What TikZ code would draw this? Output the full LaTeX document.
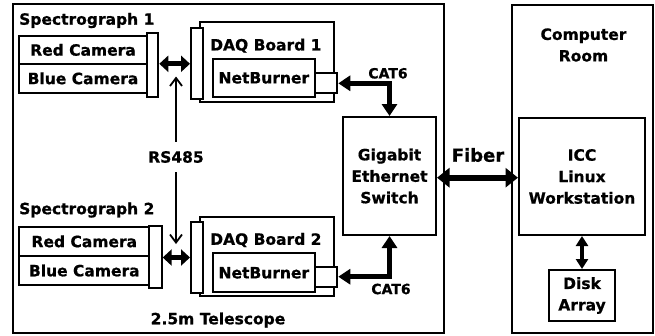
\documentclass[tikz,border=0pt]{standalone}
\usepackage{fontspec}
\setmainfont{DejaVu Sans}[BoldFeatures={FakeBold=0.8}]
\usetikzlibrary{arrows.meta}
\tikzset{
  txt/.style={font=\bfseries\fontsize{15.5}{21.5}\selectfont, inner sep=0pt, align=center},
  box/.style={draw, line width=2pt, fill=white, inner sep=0pt, font=\bfseries\fontsize{15.5}{21.5}\selectfont, align=center},
  bigarrow/.style={line width=5pt, {Triangle[width=16pt,length=9pt]}-{Triangle[width=16pt,length=9pt]}},
  catarrow/.style={line width=4.5pt, {Triangle[width=15pt,length=12pt]}-{Triangle[width=15pt,length=12pt]}},
  fibarrow/.style={line width=6pt, {Triangle[width=19pt,length=12.5pt]}-{Triangle[width=19pt,length=12.5pt]}},
  diskarrow/.style={line width=4pt, {Triangle[width=12pt,length=10pt]}-{Triangle[width=12pt,length=10pt]}},
  rsarrow/.style={line width=1.8pt, -{Straight Barb[length=8pt,width=12pt]}},
}
\begin{document}
\begin{tikzpicture}[x=1pt,y=-1pt]
\useasboundingbox (0,0) rectangle (655,335);
% outer boxes
\node[box, minimum width=430.7pt, minimum height=329.3pt] (tel) at (228.65,168.65) {};
\node[box, minimum width=141.6pt, minimum height=328.6pt] (comp) at (582.5,169) {};
% spectrograph 1
\node[txt, anchor=west] (sp1) at (19,20.5) {Spectrograph 1};
\node[box, minimum width=127.4pt, minimum height=28.3pt] (red1) at (83,49.85) {Red Camera};
\node[box, minimum width=127.4pt, minimum height=28.7pt] (blue1) at (83,78.35) {Blue Camera};
\node[box, minimum width=11.6pt, minimum height=63.4pt] (bar1) at (152.5,65) {};
\node[box, minimum width=134pt, minimum height=80pt] (daq1) at (267,62.3) {};
\node[box, minimum width=11.7pt, minimum height=71pt] (daqbar1) at (196.85,63.8) {};
\node[txt] (daqt1) at (265.85,45.7) {DAQ Board 1};
\node[box, minimum width=102.3pt, minimum height=37.7pt] (nb1) at (263.85,77.85) {NetBurner};
\node[box, minimum width=22.3pt, minimum height=20pt] (port1) at (326.15,83.3) {};
% spectrograph 2
\node[txt, anchor=west] (sp2) at (19,210) {Spectrograph 2};
\node[box, minimum width=130pt, minimum height=29.3pt] (red2) at (84.3,241.35) {Red Camera};
\node[box, minimum width=130pt, minimum height=29pt] (blue2) at (84.3,270.5) {Blue Camera};
\node[box, minimum width=12.4pt, minimum height=62.3pt] (bar2) at (155.5,257.15) {};
\node[box, minimum width=134pt, minimum height=79pt] (daq2) at (267,256.2) {};
\node[box, minimum width=11.7pt, minimum height=71.6pt] (daqbar2) at (196.85,257.5) {};
\node[txt] (daqt2) at (265.85,240) {DAQ Board 2};
\node[box, minimum width=102.3pt, minimum height=39pt] (nb2) at (263.85,272.8) {NetBurner};
\node[box, minimum width=22.3pt, minimum height=20pt] (port2) at (326.15,276.7) {};
% switch and computer room
\node[box, minimum width=93pt, minimum height=118pt] (sw) at (389.5,176) {Gigabit\\Ethernet\\Switch};
\node[box, minimum width=126pt, minimum height=117pt] (icc) at (582,176.5) {ICC\\Linux\\Workstation};
\node[box, minimum width=66pt, minimum height=51pt] (disk) at (582,295.5) {Disk\\Array};
\node[txt] (room) at (583.5,45) {Computer\\Room};
\node[txt] (telt) at (218,320) {2.5m Telescope};
% labels
\node[txt, inner ysep=9pt] (rs) at (176,157) {RS485};
\node[txt, font=\bfseries\fontsize{14}{17}\selectfont] (cat1) at (388,73.3) {CAT6};
\node[txt, font=\bfseries\fontsize{14}{17}\selectfont] (cat2) at (391,289) {CAT6};
\node[txt, font=\bfseries\fontsize{18}{22}\selectfont] (fib) at (478,155) {Fiber};
\coordinate (rsTop) at (176,76.5);
\coordinate (rsBot) at (176,244);
% connectors
\draw[bigarrow] (bar1.east |- daqbar1.west) -- (daqbar1.west);
\draw[bigarrow] (bar2.east |- daqbar2.west) -- (daqbar2.west);
\draw[rsarrow] (rs.north) -- (rsTop);
\draw[rsarrow] (rs.south) -- (rsBot);
\draw[catarrow] (port1.east) -| (sw.north);
\draw[catarrow] (port2.east) -| (sw.south);
\draw[fibarrow] (sw.east |- 0,177.7) -- (icc.west |- 0,177.7);
\draw[diskarrow] (icc.south) -- (disk.north);
\end{tikzpicture}
\end{document}
